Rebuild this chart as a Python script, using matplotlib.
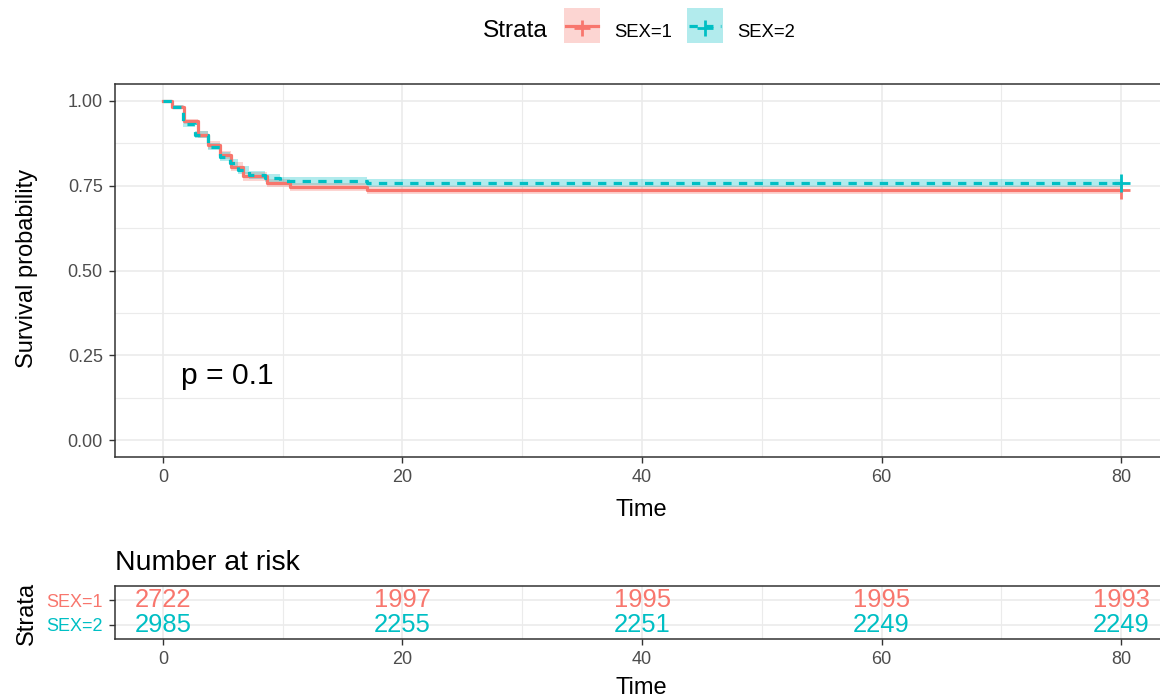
import numpy as np
import matplotlib
matplotlib.use("Agg")
import matplotlib.pyplot as plt
from matplotlib.patches import Rectangle

plt.rcParams['font.family'] = ['Liberation Sans', 'DejaVu Sans']

W, H = 1160, 699

# Kaplan-Meier curve, SEX=1 (time of each drop, survival after it, 95% band)
time_1 = [0, 0.8, 1.8, 2.9, 3.8, 4.8, 5.7, 6.7, 8.7, 10.6, 17.0, 80]
surv_1 = [1.000, 0.983, 0.940, 0.900, 0.870, 0.840, 0.806, 0.778, 0.758, 0.747, 0.738, 0.738]
low_1 = [1.000, 0.978, 0.932, 0.890, 0.859, 0.828, 0.793, 0.765, 0.745, 0.735, 0.727, 0.727]
high_1 = [1.000, 0.988, 0.948, 0.910, 0.881, 0.852, 0.819, 0.791, 0.771, 0.759, 0.749, 0.749]

# SEX=2
time_2 = [0, 0.8, 1.7, 2.7, 3.8, 4.8, 5.6, 6.3, 7.2, 8.5, 9.8, 17.0, 80]
surv_2 = [1.000, 0.983, 0.932, 0.900, 0.865, 0.836, 0.817, 0.796, 0.782, 0.773, 0.765, 0.757, 0.757]
low_2 = [1.000, 0.978, 0.924, 0.890, 0.854, 0.824, 0.805, 0.784, 0.770, 0.761, 0.753, 0.745, 0.745]
high_2 = [1.000, 0.988, 0.940, 0.910, 0.876, 0.848, 0.829, 0.808, 0.794, 0.785, 0.777, 0.769, 0.769]

# number at risk table
risk_times = [0, 20, 40, 60, 80]
risk_1 = [2722, 1997, 1995, 1995, 1993]
risk_2 = [2985, 2255, 2251, 2249, 2249]

strata = ['SEX=1', 'SEX=2']
colors = ['#F8766D', '#00BFC4']
p_label = 'p = 0.1'

x_ticks = [0, 20, 40, 60, 80]
y_ticks = [0.0, 0.25, 0.5, 0.75, 1.0]

GRID = '#EBEBEB'
DARK = '#333333'
TICKTXT = '#4D4D4D'
LW = 2.3
DASH = (2.6, 2.3)


def px(x, y):
    return x / W, 1 - y / H


def style_axes(a):
    for s in a.spines.values():
        s.set_color(DARK)
        s.set_linewidth(1.1)
    a.set_axisbelow(True)
    a.tick_params(which='major', length=4.3, width=1.0, color=DARK,
                  labelcolor=TICKTXT, labelsize=13, pad=4.5)
    a.tick_params(which='minor', length=0)
    a.grid(which='major', color=GRID, lw=1.2)
    a.grid(which='minor', color=GRID, lw=0.8)


fig = plt.figure(figsize=(W / 100, H / 100), dpi=100)

# survival curves
ax = fig.add_axes([115 / W, 1 - 457 / H, 1054 / W, 373 / H])
ax.set_xlim(-4, 84)
ax.set_ylim(-0.05, 1.05)
ax.set_xticks(x_ticks)
ax.set_xticks([10, 30, 50, 70], minor=True)
ax.set_yticks(y_ticks)
ax.set_yticklabels(['%.2f' % v for v in y_ticks])
ax.set_yticks([0.125, 0.375, 0.625, 0.875], minor=True)
style_axes(ax)

curves = [(time_1, surv_1, low_1, high_1), (time_2, surv_2, low_2, high_2)]
for i, (t, s, lo, hi) in enumerate(curves):
    ax.fill_between(t, lo, hi, step='post', color=colors[i], alpha=0.3, lw=0)
for i, (t, s, lo, hi) in enumerate(curves):
    line, = ax.step(t, s, where='post', color=colors[i], lw=LW)
    if i == 1:
        line.set_dashes(DASH)
    ax.plot(t[-1], s[-1], marker='+', ms=13, mew=2, color=colors[i])

ax.text(1.55, 0.19, p_label, fontsize=21.6, ha='left', va='center')

fig.text(*px(33, 268), 'Survival probability', rotation=90, rotation_mode='anchor',
         ha='center', va='baseline', fontsize=17)
fig.text(*px(641, 516), 'Time', ha='center', va='baseline', fontsize=17)

# risk table
tab = fig.add_axes([115 / W, 1 - 639 / H, 1054 / W, 53 / H])
tab.set_xlim(-4, 84)
tab.set_ylim(0.4, 2.6)
tab.set_xticks(x_ticks)
tab.set_xticks([10, 30, 50, 70], minor=True)
tab.set_yticks([2, 1])
tab.set_yticklabels(strata)
style_axes(tab)
for lab, c in zip(tab.get_yticklabels(), colors):
    lab.set_color(c)

for row, (counts, c) in zip([2, 1], [(risk_1, colors[0]), (risk_2, colors[1])]):
    for t, n in zip(risk_times, counts):
        tab.text(t, row, str(n), ha='center', va='center', color=c,
                 fontsize=18.4, clip_on=False)

fig.text(*px(115, 570), 'Number at risk', ha='left', va='baseline', fontsize=20.5)
fig.text(*px(33, 613), 'Strata', rotation=90, rotation_mode='anchor',
         ha='center', va='baseline', fontsize=17)
fig.text(*px(641, 694), 'Time', ha='center', va='baseline', fontsize=17)

# legend across the top
lg = fig.add_axes([0, 0, 1, 1], zorder=-1)
lg.set_xlim(0, W)
lg.set_ylim(H, 0)
lg.axis('off')
lg.text(483, 37, 'Strata', ha='left', va='baseline', fontsize=17.6)
for x0, lab, c, dashed in [(564, strata[0], colors[0], False),
                           (687, strata[1], colors[1], True)]:
    lg.add_patch(Rectangle((x0, 8), 36, 35, facecolor=c, alpha=0.3, lw=0))
    key, = lg.plot([x0 + 2, x0 + 34], [26, 26], color=c, lw=LW)
    if dashed:
        key.set_dashes(DASH)
    lg.plot(x0 + 18, 28, marker='+', ms=12, mew=2, color=c)
    lg.text(x0 + 50, 37, lab, ha='left', va='baseline', fontsize=13.3)

fig.savefig('out.png', dpi=100)
